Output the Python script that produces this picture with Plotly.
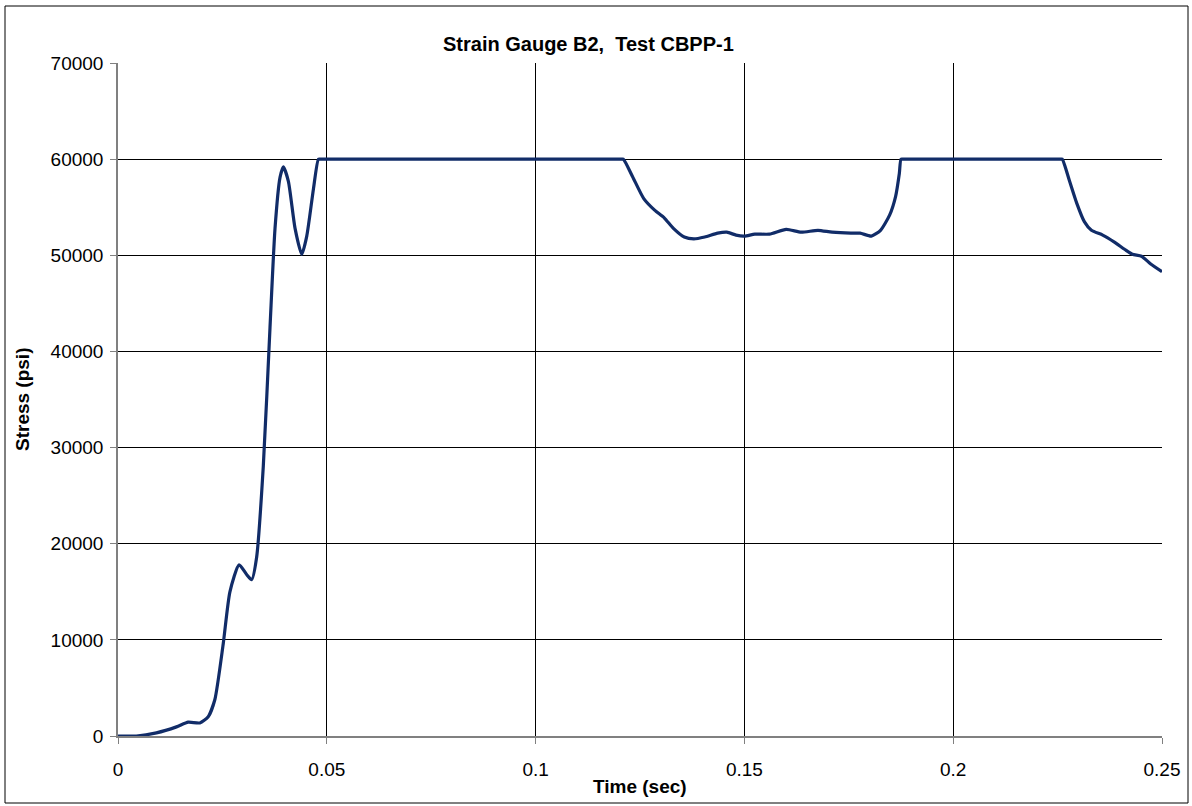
import plotly.graph_objects as go

time_sec = [0.0, 0.0044, 0.0092, 0.014, 0.0168, 0.0196, 0.0216, 0.0232, 0.0252, 0.0268,
            0.029, 0.0308, 0.032, 0.0332, 0.0348, 0.0364, 0.0376, 0.0388, 0.0396, 0.0408,
            0.0424, 0.044, 0.0452, 0.0468, 0.048, 0.0485, 0.06, 0.08, 0.1, 0.1205, 0.121,
            0.1232, 0.1259, 0.1285, 0.1308, 0.133, 0.1356, 0.1379, 0.1405, 0.1436, 0.1458,
            0.148, 0.15, 0.1525, 0.156, 0.16, 0.1636, 0.1676, 0.171, 0.1755, 0.1777,
            0.1804, 0.1826, 0.1848, 0.1862, 0.1871, 0.1875, 0.188, 0.2, 0.215, 0.2256, 0.2261,
            0.2278, 0.2296, 0.2314, 0.2331, 0.2358, 0.2385, 0.2411, 0.2429, 0.2451,
            0.2473, 0.25]
stress_psi = [0, 0, 330, 950, 1440, 1360, 2000, 3800, 9600, 15000,
              17800, 16800, 16250, 18600, 28100, 42500, 52800, 58100, 59200, 57700,
              52800, 50100, 52000, 56900, 60000, 60000, 60000, 60000, 60000, 60000, 60000,
              58200, 55900, 54700, 53900, 52800, 51900, 51700, 51900, 52300, 52400,
              52100, 52000, 52200, 52200, 52700, 52400, 52600, 52400, 52300, 52300,
              52000, 52600, 54200, 56100, 58500, 60000, 60000, 60000, 60000, 60000, 60000,
              57800, 55400, 53500, 52600, 52100, 51400, 50600, 50100, 49900,
              49100, 48300]

x_ticks = [0, 0.05, 0.1, 0.15, 0.2, 0.25]
x_tick_labels = ["0", "0.05", "0.1", "0.15", "0.2", "0.25"]
y_ticks = [0, 10000, 20000, 30000, 40000, 50000, 60000, 70000]
y_tick_labels = ["0", "10000", "20000", "30000", "40000", "50000", "60000", "70000"]

FONT = "Liberation Sans, Arial, sans-serif"
W, H = 1192, 806
L, R, T, B = 118, 30, 63, 70
PW, PH = W - L - R, H - T - B


def px(xp):
    return (xp - L) / PW


def py(yp):
    return (H - B - yp) / PH


fig = go.Figure()
fig.add_trace(go.Scatter(
    x=time_sec, y=stress_psi, mode="lines",
    line=dict(color="#112C68", width=3.2, shape="spline", smoothing=0.6),
    hoverinfo="skip", showlegend=False,
))

fig.update_layout(
    width=W, height=H,
    margin=dict(l=L, r=R, t=T, b=B),
    paper_bgcolor="white", plot_bgcolor="white",
    font=dict(family=FONT, color="black"),
    showlegend=False,
    shapes=[dict(type="rect", xref="paper", yref="paper",
                 x0=px(5), x1=px(1188), y0=py(803), y1=py(6),
                 line=dict(color="black", width=1), fillcolor="rgba(0,0,0,0)", layer="below")],
    annotations=[
        dict(text="<b>Strain Gauge B2,  Test CBPP-1</b>", xref="paper", yref="paper",
             x=px(588), y=py(44), xanchor="center", yanchor="middle", showarrow=False,
             font=dict(size=20, family=FONT, color="black")),
        dict(text="<b>Time (sec)</b>", xref="paper", yref="paper",
             x=px(640), y=py(786), xanchor="center", yanchor="middle", showarrow=False,
             font=dict(size=19, family=FONT, color="black")),
        dict(text="<b>Stress (psi)</b>", xref="paper", yref="paper", textangle=-90,
             x=px(22), y=py(400), xanchor="center", yanchor="middle", showarrow=False,
             font=dict(size=19, family=FONT, color="black")),
    ],
)

fig.update_xaxes(
    range=[0, 0.25], tickvals=x_ticks, ticktext=x_tick_labels,
    showgrid=True, gridcolor="black", gridwidth=1,
    showline=True, linecolor="#808080", linewidth=1.5,
    ticks="outside", ticklen=6, tickcolor="#808080", ticklabelstandoff=9,
    tickfont=dict(size=19, family=FONT, color="black"),
    zeroline=False, mirror=False,
)
fig.update_yaxes(
    range=[0, 70000], tickvals=y_ticks, ticktext=y_tick_labels,
    showgrid=True, gridcolor="black", gridwidth=1,
    showline=True, linecolor="#808080", linewidth=1.5,
    ticks="outside", ticklen=6, tickcolor="#808080", ticklabelstandoff=3,
    tickfont=dict(size=19, family=FONT, color="black"),
    zeroline=False,
)

fig.write_html("out.html", config={"displayModeBar": False},
               post_script="document.body.style.margin='0px';")
